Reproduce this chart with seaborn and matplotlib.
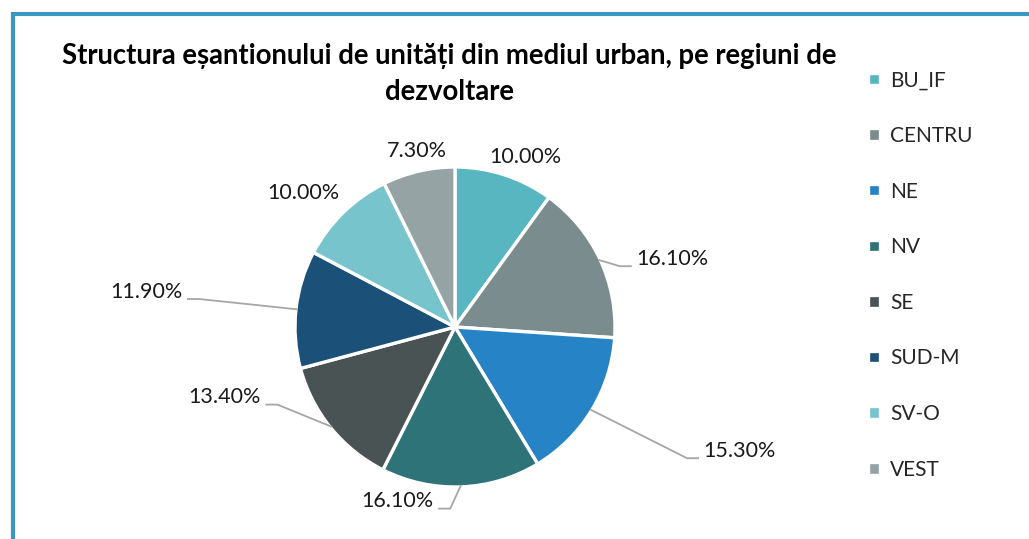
import numpy as np
import pandas as pd
import matplotlib
matplotlib.use("Agg")
import matplotlib.pyplot as plt
import seaborn as sns
from matplotlib.patches import Rectangle

regions = ["BU_IF", "CENTRU", "NE", "NV", "SE", "SUD-M", "SV-O", "VEST"]
shares = [10.00, 16.10, 15.30, 16.10, 13.40, 11.90, 10.00, 7.30]
colors = ["#58B6C0", "#7B8C8E", "#2683C6", "#2E7377",
          "#4A5354", "#1B5078", "#78C4CC", "#95A3A4"]
title = "Structura eșantionului de unități din mediul urban, pe regiuni de\ndezvoltare"

df = pd.DataFrame({"regiune": regions, "pondere": shares})

sns.set_theme(style="white")
plt.rcParams["font.family"] = ["Lato", "DejaVu Sans"]

fig = plt.figure(figsize=(10.29, 5.39), dpi=100)
ax = fig.add_axes([0, 0, 1, 1])

wedges, _ = ax.pie(df["pondere"], colors=sns.color_palette(colors),
                   startangle=90, counterclock=False, radius=1,
                   wedgeprops=dict(edgecolor="white", linewidth=2.4))

# axes over the whole figure, 1 data unit = 160 px (pie radius)
ax.set_xlim(-455 / 160, (1029 - 455) / 160)
ax.set_ylim(-(539 - 327) / 160, 327 / 160)
ax.axis("off")

# label offsets (units of radius) and whether a leader line is drawn
lbl_pos = [(0.44, 1.06), (1.36, 0.425), (1.78, -0.775), (-0.36, -1.09),
           (-1.44, -0.44), (-1.93, 0.22), (-0.95, 0.84), (-0.24, 1.10)]
leader = [False, True, True, True, True, True, False, False]
half_w = 0.225

for w, (lx, ly), v, has_line in zip(wedges, lbl_pos, df["pondere"], leader):
    ax.text(lx, ly, f"{v:.2f}%", ha="center", va="center",
            fontsize=15.5, color="#1a1a1a")
    if has_line:
        mid = np.deg2rad((w.theta1 + w.theta2) / 2)
        sx, sy = np.cos(mid) * 0.99, np.sin(mid) * 0.99
        yb = ly - 0.045
        if lx > 0:
            ex = lx - half_w - 0.03
            kx = ex - 0.075
        else:
            ex = lx + half_w + 0.03
            kx = ex + 0.075
        ax.plot([sx, kx, ex], [sy, yb, yb], color="#A6A6A6", lw=1.3,
                solid_capstyle="butt")

fig.text(0.437, 1 - 74 / 539, title, ha="center", va="center", fontsize=19.8,
         fontweight="bold", color="black", linespacing=1.45)

leg = ax.legend(wedges, df["regiune"], loc="upper left",
                bbox_to_anchor=(860 / 1029, 1 - 62 / 539),
                bbox_transform=fig.transFigure, frameon=False,
                fontsize=15, handlelength=0.55, handleheight=0.55,
                handletextpad=0.5, labelspacing=1.71, borderaxespad=0)

fig.patches.append(Rectangle((13 / 1029, -0.05), 1.1, 1.05 - 14 / 539,
                             transform=fig.transFigure, fill=False,
                             edgecolor="#3A97BF", linewidth=3))

fig.savefig("out.png", dpi=100)
